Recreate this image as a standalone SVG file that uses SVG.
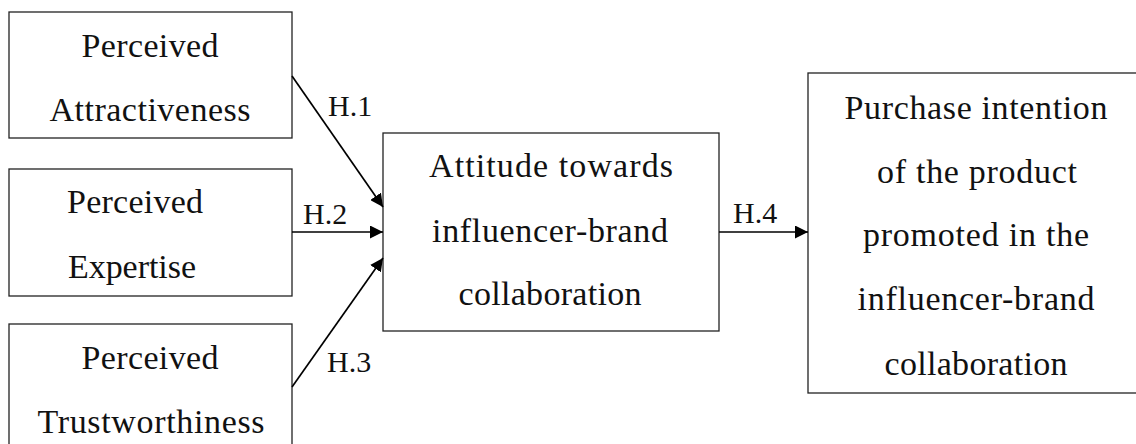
<svg xmlns="http://www.w3.org/2000/svg" width="1136" height="444" viewBox="0 0 1136 444">
  <style>
    .box { fill: #ffffff; stroke: #222222; stroke-width: 1.3; }
    .lbl { font-family: "Liberation Serif", "Times New Roman", serif; font-size: 34px; fill: #111111; }
    .hyp { font-family: "Liberation Serif", "Times New Roman", serif; font-size: 30px; fill: #111111; }
    .mid { text-anchor: middle; }
    .edge { stroke: #000000; stroke-width: 1.7; fill: none; marker-end: url(#arrow); }
  </style>
  <defs>
    <marker id="arrow" markerUnits="userSpaceOnUse" markerWidth="14" markerHeight="13" refX="13" refY="6.5" orient="auto">
      <path d="M0,0 L13,6.5 L0,13 z" fill="#000000"/>
    </marker>
  </defs>
  <rect width="1136" height="444" fill="#ffffff"/>

  <g id="attractiveness">
    <rect class="box" x="9" y="12" width="283" height="126"/>
    <text class="lbl mid" x="150" y="57" textLength="137">Perceived</text>
    <text class="lbl mid" x="150" y="121" textLength="201">Attractiveness</text>
  </g>

  <g id="expertise">
    <rect class="box" x="9" y="169" width="283" height="127"/>
    <text class="lbl" x="67" y="213" textLength="136">Perceived</text>
    <text class="lbl" x="68" y="278" textLength="128">Expertise</text>
  </g>

  <g id="trustworthiness">
    <rect class="box" x="9" y="324" width="283" height="130"/>
    <text class="lbl mid" x="150" y="369" textLength="137">Perceived</text>
    <text class="lbl mid" x="151" y="433" textLength="227">Trustworthiness</text>
  </g>

  <g id="attitude">
    <rect class="box" x="383" y="133" width="336" height="198"/>
    <text class="lbl mid" x="551" y="177" textLength="244">Attitude towards</text>
    <text class="lbl mid" x="550" y="242" textLength="236">influencer-brand</text>
    <text class="lbl mid" x="550" y="305" textLength="183">collaboration</text>
  </g>

  <g id="purchase-intention">
    <rect class="box" x="808" y="73" width="336" height="320"/>
    <text class="lbl mid" x="976" y="119" textLength="263">Purchase intention</text>
    <text class="lbl mid" x="977" y="183" textLength="200">of the product</text>
    <text class="lbl mid" x="976" y="246" textLength="226">promoted in the</text>
    <text class="lbl mid" x="976" y="310" textLength="237">influencer-brand</text>
    <text class="lbl mid" x="976" y="375" textLength="183">collaboration</text>
  </g>

  <g id="connectors">
    <line class="edge" x1="292" y1="76" x2="383" y2="207"/>
    <line class="edge" x1="292" y1="232" x2="383" y2="232"/>
    <line class="edge" x1="292" y1="387" x2="383" y2="258"/>
    <line class="edge" x1="719" y1="232" x2="808" y2="232"/>
    <text class="hyp" x="328" y="116">H.1</text>
    <text class="hyp" x="303" y="224">H.2</text>
    <text class="hyp" x="327" y="372">H.3</text>
    <text class="hyp" x="733" y="223">H.4</text>
  </g>
</svg>
